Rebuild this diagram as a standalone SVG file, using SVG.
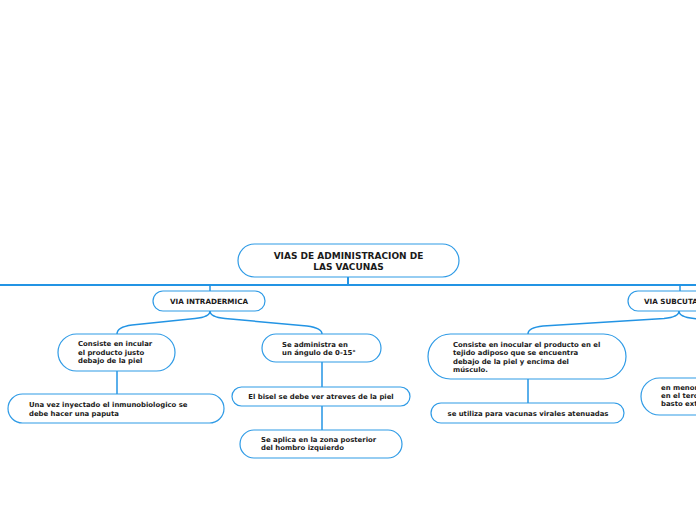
<svg xmlns="http://www.w3.org/2000/svg" width="696" height="520" viewBox="0 0 696 520">
<style>
.box{fill:#fff;stroke:#2f9be6;stroke-width:1.2}
.ln{fill:none;stroke:#2394e4;stroke-width:1.5}
.main{fill:none;stroke:#2394e4;stroke-width:2}
text{font-family:"DejaVu Sans",Verdana,sans-serif;font-weight:bold;fill:#1a1a1a}
.t{font-size:6.9px}
.h{font-size:7.2px}
.r{font-size:9px}
</style>
<rect width="696" height="520" fill="#fff"/>
<g id="connectors">
<path class="main" d="M348,277 V285"/>
<path class="main" d="M0,285 H696"/>
<path class="ln" d="M210,285 V291"/>
<path class="ln" d="M680,285 V291"/>
<path class="ln" d="M210,311 Q210,317 195,318.5 L132,325 Q117,327 117,334"/>
<path class="ln" d="M210,311 Q210,317 225,318.5 L307,326 Q322,328 322,334"/>
<path class="ln" d="M117,371 V394"/>
<path class="ln" d="M322,362 V387"/>
<path class="ln" d="M322,406 V430"/>
<path class="ln" d="M679,311 Q679,317 664,318.5 L543,326 Q528,327.5 528,334"/>
<path class="ln" d="M679,311 Q679,317 694,318.5 L760,326"/>
<path class="ln" d="M528,379 V403"/>
</g>
<g id="root">
<rect class="box" x="238" y="244" width="221" height="33" rx="16.5"/>
<text class="r" x="348.5" y="259" text-anchor="middle">VIAS DE ADMINISTRACION DE</text>
<text class="r" x="348.5" y="270" text-anchor="middle">LAS VACUNAS</text>
</g>
<g id="intradermica">
<rect class="box" x="153" y="291" width="112" height="20" rx="10"/>
<text class="h" x="209" y="303.5" text-anchor="middle">VIA INTRADERMICA</text>
</g>
<g id="consiste1">
<rect class="box" x="58" y="334" width="117" height="37" rx="18.5"/>
<text class="t" x="78" y="346">Consiste en incular</text>
<text class="t" x="78" y="354.5">el producto justo</text>
<text class="t" x="78" y="363">debajo de la piel</text>
</g>
<g id="administra">
<rect class="box" x="262" y="334" width="119" height="28" rx="14"/>
<text class="t" x="282" y="346.5">Se administra en</text>
<text class="t" x="282" y="355">un ángulo de 0-15°</text>
</g>
<g id="inyectado">
<rect class="box" x="8" y="394" width="216" height="29" rx="14.5"/>
<text class="t" x="29" y="407">Una vez inyectado el inmunobiologico se</text>
<text class="t" x="29" y="415.5">debe hacer una paputa</text>
</g>
<g id="bisel">
<rect class="box" x="232" y="387" width="178" height="19" rx="9.5"/>
<text class="t" x="321" y="398.5" text-anchor="middle">El bisel se debe ver atreves de la piel</text>
</g>
<g id="aplica">
<rect class="box" x="240" y="430" width="162" height="28" rx="14"/>
<text class="t" x="261" y="441.5">Se aplica en la zona posterior</text>
<text class="t" x="261" y="450">del hombro izquierdo</text>
</g>
<g id="subcutanea">
<rect class="box" x="628" y="291" width="106" height="20" rx="10"/>
<text class="h" x="644" y="303.5">VIA SUBCUTANEA</text>
</g>
<g id="consiste2">
<rect class="box" x="428" y="334" width="198" height="45" rx="22.5"/>
<text class="t" x="453" y="346.5">Consiste en inocular el producto en el</text>
<text class="t" x="453" y="355">tejido adiposo que se encuentra</text>
<text class="t" x="453" y="363.5">debajo de la piel y encima del</text>
<text class="t" x="453" y="372">músculo.</text>
</g>
<g id="virales">
<rect class="box" x="431" y="403" width="193" height="20" rx="10"/>
<text class="t" x="528" y="415.5" text-anchor="middle">se utiliza para vacunas virales atenuadas</text>
</g>
<g id="menor">
<rect class="box" x="641" y="378" width="120" height="37" rx="18.5"/>
<text class="t" x="661" y="390">en menor</text>
<text class="t" x="661" y="398">en el terc</text>
<text class="t" x="661" y="406">basto ext</text>
</g>
</svg>
